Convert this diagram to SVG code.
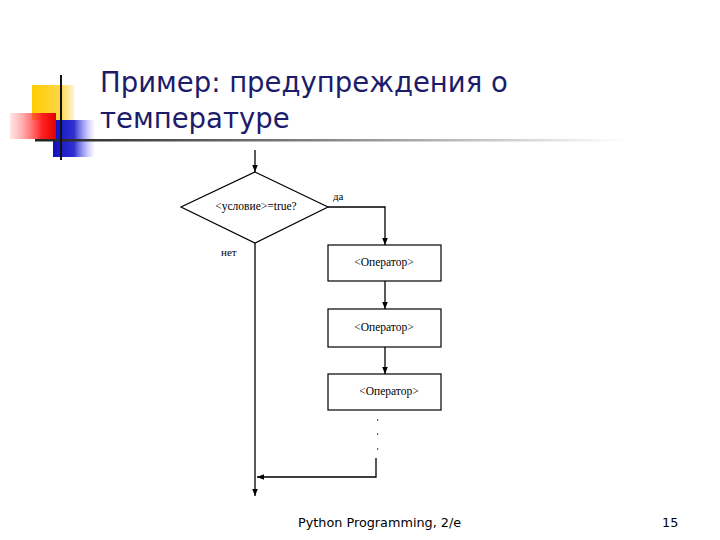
<svg xmlns="http://www.w3.org/2000/svg" width="720" height="540" viewBox="0 0 720 540">
<style>
.title{font-family:Tahoma,"DejaVu Sans","Liberation Sans",sans-serif;font-size:27.5px;fill:#1c1c6a}
.foot{font-family:"DejaVu Sans","Liberation Sans",sans-serif;font-size:12.8px;fill:#000}
.lbl{font-family:"Liberation Serif",serif;font-size:11px;fill:#000}
.op{font-family:"Liberation Serif",serif;font-size:11.5px;fill:#000}
.shape{fill:#fff;stroke:#000;stroke-width:1.2}
.ln{fill:none;stroke:#000;stroke-width:1.3}
</style>
<defs>
<marker id="ah" viewBox="0 0 10 10" refX="10" refY="5" markerWidth="7" markerHeight="7" orient="auto" markerUnits="userSpaceOnUse"><path d="M0,1 L10,5 L0,9 z" fill="#000"/></marker>
<linearGradient id="red" x1="0" x2="1"><stop offset="0" stop-color="#ff8080" stop-opacity="0.2"/><stop offset="0.7" stop-color="#ff2020"/><stop offset="1" stop-color="#e00000"/></linearGradient>
<linearGradient id="blue" x1="0" x2="1"><stop offset="0" stop-color="#1010c0"/><stop offset="0.5" stop-color="#3030d0"/><stop offset="1" stop-color="#8080ff" stop-opacity="0"/></linearGradient>
<linearGradient id="yel" x1="0" x2="1"><stop offset="0" stop-color="#ffcc00"/><stop offset="0.7" stop-color="#ffd84a"/><stop offset="1" stop-color="#ffe89a" stop-opacity="0.5"/></linearGradient>
<linearGradient id="hl" x1="0" x2="1"><stop offset="0" stop-color="#222"/><stop offset="0.5" stop-color="#888"/><stop offset="1" stop-color="#fff"/></linearGradient>
</defs>
<g id="decor">
<rect x="32" y="85" width="42" height="35" fill="url(#yel)"/>
<rect x="53" y="120" width="42" height="37" fill="url(#blue)"/>
<rect x="10" y="113" width="46" height="26" fill="url(#red)"/>
<rect x="35" y="139" width="590" height="2.5" fill="url(#hl)"/>
<rect x="60" y="75" width="2" height="85" fill="#111"/>
</g>
<g id="title">
<text class="title" x="100" y="92">Пример: предупреждения о</text>
<text class="title" x="100" y="128">температуре</text>
</g>
<g id="connectors">
<line class="ln" x1="255" y1="150" x2="255" y2="172" marker-end="url(#ah)"/>
<polyline class="ln" points="328,207 385,207 385,245" marker-end="url(#ah)"/>
<line class="ln" x1="385" y1="281" x2="385" y2="309" marker-end="url(#ah)"/>
<line class="ln" x1="385" y1="347" x2="385" y2="374" marker-end="url(#ah)"/>
<polyline class="ln" points="376,458 376,477 257,477" marker-end="url(#ah)"/>
<line class="ln" x1="255" y1="243" x2="255" y2="496" marker-end="url(#ah)"/>
<text class="lbl" x="333" y="200">да</text>
<text class="lbl" x="221" y="256">нет</text>
<g fill="#666"><rect x="377" y="419" width="1.2" height="2"/><rect x="377" y="433" width="1.2" height="2"/><rect x="377" y="448" width="1.2" height="2"/></g>
</g>
<g id="cond">
<polygon class="shape" points="255,172 328,207 255,243 181,207"/>
<text class="op" x="256" y="210" text-anchor="middle">&lt;условие&gt;=true?</text>
</g>
<g id="op1">
<rect class="shape" x="328" y="245" width="113" height="36"/>
<text class="op" x="384" y="266" text-anchor="middle">&lt;Оператор&gt;</text>
</g>
<g id="op2">
<rect class="shape" x="328" y="309" width="113" height="38"/>
<text class="op" x="384" y="331" text-anchor="middle">&lt;Оператор&gt;</text>
</g>
<g id="op3">
<rect class="shape" x="328" y="374" width="113" height="36"/>
<text class="op" x="389" y="395" text-anchor="middle">&lt;Оператор&gt;</text>
</g>
<g id="footer">
<text class="foot" x="298" y="527">Python Programming, 2/e</text>
<text class="foot" x="662" y="527">15</text>
</g>
</svg>
